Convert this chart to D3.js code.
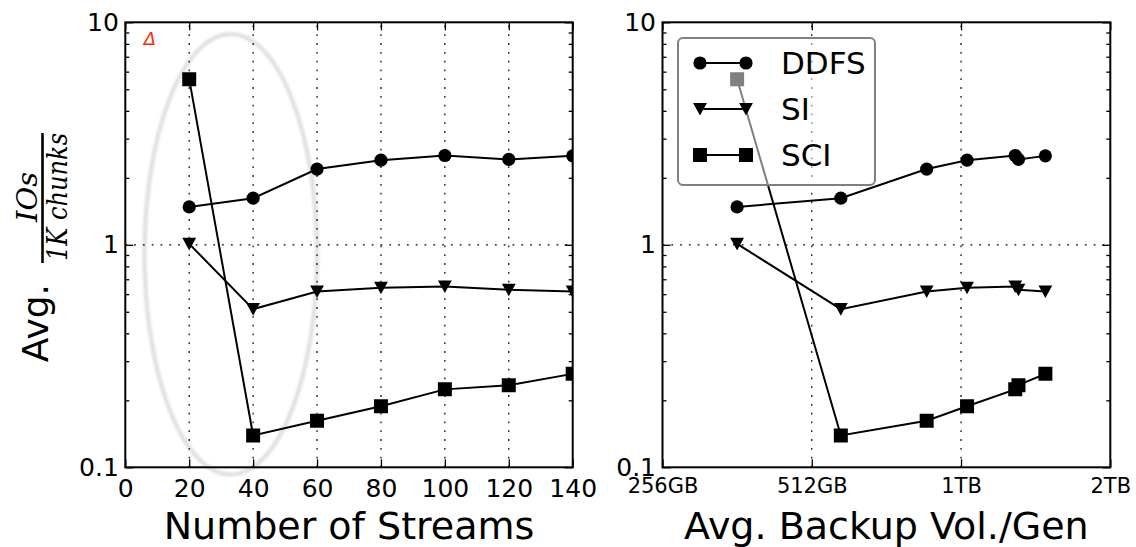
<!DOCTYPE html>
<html>
<head>
<meta charset="utf-8">
<script src="https://cdn.jsdelivr.net/npm/d3@7"></script>
<style>
  body { margin: 0; background: #fff; }
</style>
</head>
<body>
<div id="wrapper"></div>
<script>

// values
const streams = [20, 40, 60, 80, 100, 120, 140]
const volumeGB = [362, 586, 873, 1053, 1317, 1337, 1515]
const ddfs = [1.48, 1.62, 2.19, 2.40, 2.52, 2.42, 2.51]
const si = [1.01, 0.514, 0.617, 0.641, 0.65, 0.628, 0.617]
const sci = [5.55, 0.139, 0.162, 0.188, 0.224, 0.234, 0.263]

const seriesNames = ["DDFS", "SI", "SCI"]
const seriesValues = [ddfs, si, sci]
const seriesMarkers = ["circle", "triangle", "square"]

const streamTicks = [0, 20, 40, 60, 80, 100, 120, 140]
const volTicks = [256, 512, 1024, 2048]
const volTickLabels = ["256GB", "512GB", "1TB", "2TB"]
const yTicks = [0.1, 1, 10]
const yTickLabels = ["0.1", "1", "10"]
const yMinorTicks = [0.2, 0.3, 0.4, 0.5, 0.6, 0.7, 0.8, 0.9, 2, 3, 4, 5, 6, 7, 8, 9]

const dimensions = {
    width: 1136,
    height: 547,
    top: 22.3,
    bottom: 467.3,
    left: { x0: 125.3, x1: 572.7 },
    right: { x0: 662.5, x1: 1110.3 },
}

const wrapper = d3.select("#wrapper")
    .append("svg")
    .attr("width", dimensions.width)
    .attr("height", dimensions.height)
    .attr("font-family", "DejaVu Sans")

const defs = wrapper.append("defs")
defs.append("filter").attr("id", "soft")
    .append("feGaussianBlur").attr("stdDeviation", 0.9)

const yScale = d3.scaleLog()
    .domain([0.1, 10])
    .range([dimensions.bottom, dimensions.top])

function markerPath(type) {
    if (type === "circle") return d3.symbol(d3.symbolCircle, Math.PI * 6.6 * 6.6)()
    if (type === "square") return "M-7,-7H7V7H-7Z"
    return "M0,6.6L-6.9,-6L6.9,-6Z"
}

function styleAxis(g, size) {
    g.attr("font-size", size).attr("font-family", "DejaVu Sans")
    g.select(".domain").remove()
    g.selectAll(".tick line").attr("stroke", "#000").attr("stroke-width", 1.3)
    g.selectAll(".tick text").attr("fill", "#000")
}

function drawPanel(id, xScale, xValues, xTicks, xFormat, xFontSize, xPadding, gridX, xTitle) {
    const x0 = xScale.range()[0], x1 = xScale.range()[1]
    const panel = wrapper.append("g")

    defs.append("clipPath").attr("id", "clip-" + id)
        .append("rect")
        .attr("x", x0).attr("y", dimensions.top)
        .attr("width", x1 - x0).attr("height", dimensions.bottom - dimensions.top)

    // grid
    const grid = panel.append("g")
        .attr("stroke", "#000")
        .attr("stroke-width", 1.2)
        .attr("stroke-dasharray", "1.8,7")
    grid.selectAll("line.gx")
        .data(gridX)
        .join("line")
        .attr("x1", d => xScale(d)).attr("x2", d => xScale(d))
        .attr("y1", dimensions.bottom).attr("y2", dimensions.top)
    grid.append("line")
        .attr("x1", x0).attr("x2", x1)
        .attr("y1", yScale(1)).attr("y2", yScale(1))

    // series
    const plot = panel.append("g").attr("clip-path", `url(#clip-${id})`)
    seriesValues.forEach((vals, i) => {
        const pts = xValues.map((x, j) => [xScale(x), yScale(vals[j])])
        plot.append("path")
            .attr("d", d3.line()(pts))
            .attr("fill", "none")
            .attr("stroke", "#000")
            .attr("stroke-width", 2)
        plot.selectAll(null)
            .data(pts)
            .join("path")
            .attr("transform", d => `translate(${d[0]},${d[1]})`)
            .attr("d", markerPath(seriesMarkers[i]))
            .attr("fill", "#000")
    })

    // axes
    panel.append("g")
        .attr("transform", `translate(0,${dimensions.bottom})`)
        .call(d3.axisBottom(xScale).tickValues(xTicks).tickFormat(xFormat)
            .tickSizeInner(-8).tickSizeOuter(0).tickPadding(xPadding))
        .call(g => styleAxis(g, xFontSize))
    panel.append("g")
        .attr("transform", `translate(0,${dimensions.top})`)
        .call(d3.axisTop(xScale).tickValues(xTicks).tickFormat("")
            .tickSizeInner(-8).tickSizeOuter(0))
        .call(g => styleAxis(g, 10))
    panel.append("g")
        .attr("transform", `translate(${x0},0)`)
        .call(d3.axisLeft(yScale).tickValues(yTicks).tickFormat((d, i) => yTickLabels[i])
            .tickSizeInner(-8).tickSizeOuter(0).tickPadding(6.5))
        .call(g => styleAxis(g, 25))
    panel.append("g")
        .attr("transform", `translate(${x0},0)`)
        .call(d3.axisLeft(yScale).tickValues(yMinorTicks).tickFormat("")
            .tickSizeInner(-4).tickSizeOuter(0))
        .call(g => styleAxis(g, 10))
    panel.append("g")
        .attr("transform", `translate(${x1},0)`)
        .call(d3.axisRight(yScale).tickValues(yTicks).tickFormat("")
            .tickSizeInner(-8).tickSizeOuter(0))
        .call(g => styleAxis(g, 10))
    panel.append("g")
        .attr("transform", `translate(${x1},0)`)
        .call(d3.axisRight(yScale).tickValues(yMinorTicks).tickFormat("")
            .tickSizeInner(-4).tickSizeOuter(0))
        .call(g => styleAxis(g, 10))

    // frame
    panel.append("rect")
        .attr("x", x0).attr("y", dimensions.top)
        .attr("width", x1 - x0).attr("height", dimensions.bottom - dimensions.top)
        .attr("fill", "none")
        .attr("stroke", "#000")
        .attr("stroke-width", 2)

    panel.append("text")
        .attr("x", (x0 + x1) / 2)
        .attr("y", 539)
        .attr("text-anchor", "middle")
        .attr("font-size", 38)
        .text(xTitle)

    return panel
}

// left: number of streams
const xStreams = d3.scaleLinear()
    .domain([0, 140])
    .range([dimensions.left.x0, dimensions.left.x1])

// highlight ellipse behind the 20-40 stream region
const ellipse = { x: [6, 60], y: [0.0927, 8.86] }
wrapper.append("ellipse")
    .attr("cx", (xStreams(ellipse.x[0]) + xStreams(ellipse.x[1])) / 2)
    .attr("cy", (yScale(ellipse.y[0]) + yScale(ellipse.y[1])) / 2)
    .attr("rx", (xStreams(ellipse.x[1]) - xStreams(ellipse.x[0])) / 2)
    .attr("ry", (yScale(ellipse.y[0]) - yScale(ellipse.y[1])) / 2)
    .attr("fill", "none")
    .attr("stroke", "#e2e2e2")
    .attr("stroke-width", 4.5)
    .attr("filter", "url(#soft)")

drawPanel("l", xStreams, streams, streamTicks, d3.format("d"), 25, 12,
    streamTicks.slice(1, -1), "Number of Streams")

wrapper.append("text")
    .attr("x", xStreams(5.8))
    .attr("y", yScale(7.9))
    .attr("font-size", 18)
    .attr("font-style", "italic")
    .attr("fill", "#ff2a00")
    .text("Δ")

// right: backup volume per generation
const xVolume = d3.scaleLog()
    .base(2)
    .domain([256, 2048])
    .range([dimensions.right.x0, dimensions.right.x1])

drawPanel("r", xVolume, volumeGB, volTicks, (d, i) => volTickLabels[i], 21, 11,
    volTicks.slice(1, -1), "Avg. Backup Vol./Gen")

// y label
const yLabel = wrapper.append("g")
    .attr("transform", "translate(48,244) rotate(-90)")
yLabel.append("text")
    .attr("x", -40)
    .attr("text-anchor", "end")
    .attr("font-size", 36)
    .text("Avg.")
yLabel.append("line")
    .attr("x1", -19).attr("x2", 111)
    .attr("y1", -5.5).attr("y2", -5.5)
    .attr("stroke", "#000")
    .attr("stroke-width", 2.6)
yLabel.append("text")
    .attr("x", 47).attr("y", -11)
    .attr("text-anchor", "middle")
    .attr("font-family", "DejaVu Serif")
    .attr("font-style", "italic")
    .attr("font-size", 28)
    .attr("textLength", 50)
    .attr("lengthAdjust", "spacingAndGlyphs")
    .text("IOs")
yLabel.append("text")
    .attr("x", 47).attr("y", 19)
    .attr("text-anchor", "middle")
    .attr("font-family", "DejaVu Serif")
    .attr("font-style", "italic")
    .attr("font-size", 28)
    .attr("textLength", 128)
    .attr("lengthAdjust", "spacingAndGlyphs")
    .text("1K chunks")

// legend
const legend = wrapper.append("g")
legend.append("rect")
    .attr("x", 678).attr("y", 38)
    .attr("width", 197).attr("height", 147)
    .attr("rx", 5)
    .attr("fill", "#fff")
    .attr("fill-opacity", 0.5)
    .attr("stroke", "#808080")
    .attr("stroke-width", 2)
const legendY = d3.scalePoint()
    .domain(seriesNames)
    .range([63, 155])
seriesNames.forEach((name, i) => {
    const y = legendY(name)
    legend.append("line")
        .attr("x1", 700).attr("x2", 746)
        .attr("y1", y).attr("y2", y)
        .attr("stroke", "#000")
        .attr("stroke-width", 2)
    legend.selectAll(null)
        .data([700, 746])
        .join("path")
        .attr("transform", d => `translate(${d},${y})`)
        .attr("d", markerPath(seriesMarkers[i]))
        .attr("fill", "#000")
    legend.append("text")
        .attr("x", 781)
        .attr("y", y + 11)
        .attr("font-size", 31)
        .text(name)
})
</script>
</body>
</html>
